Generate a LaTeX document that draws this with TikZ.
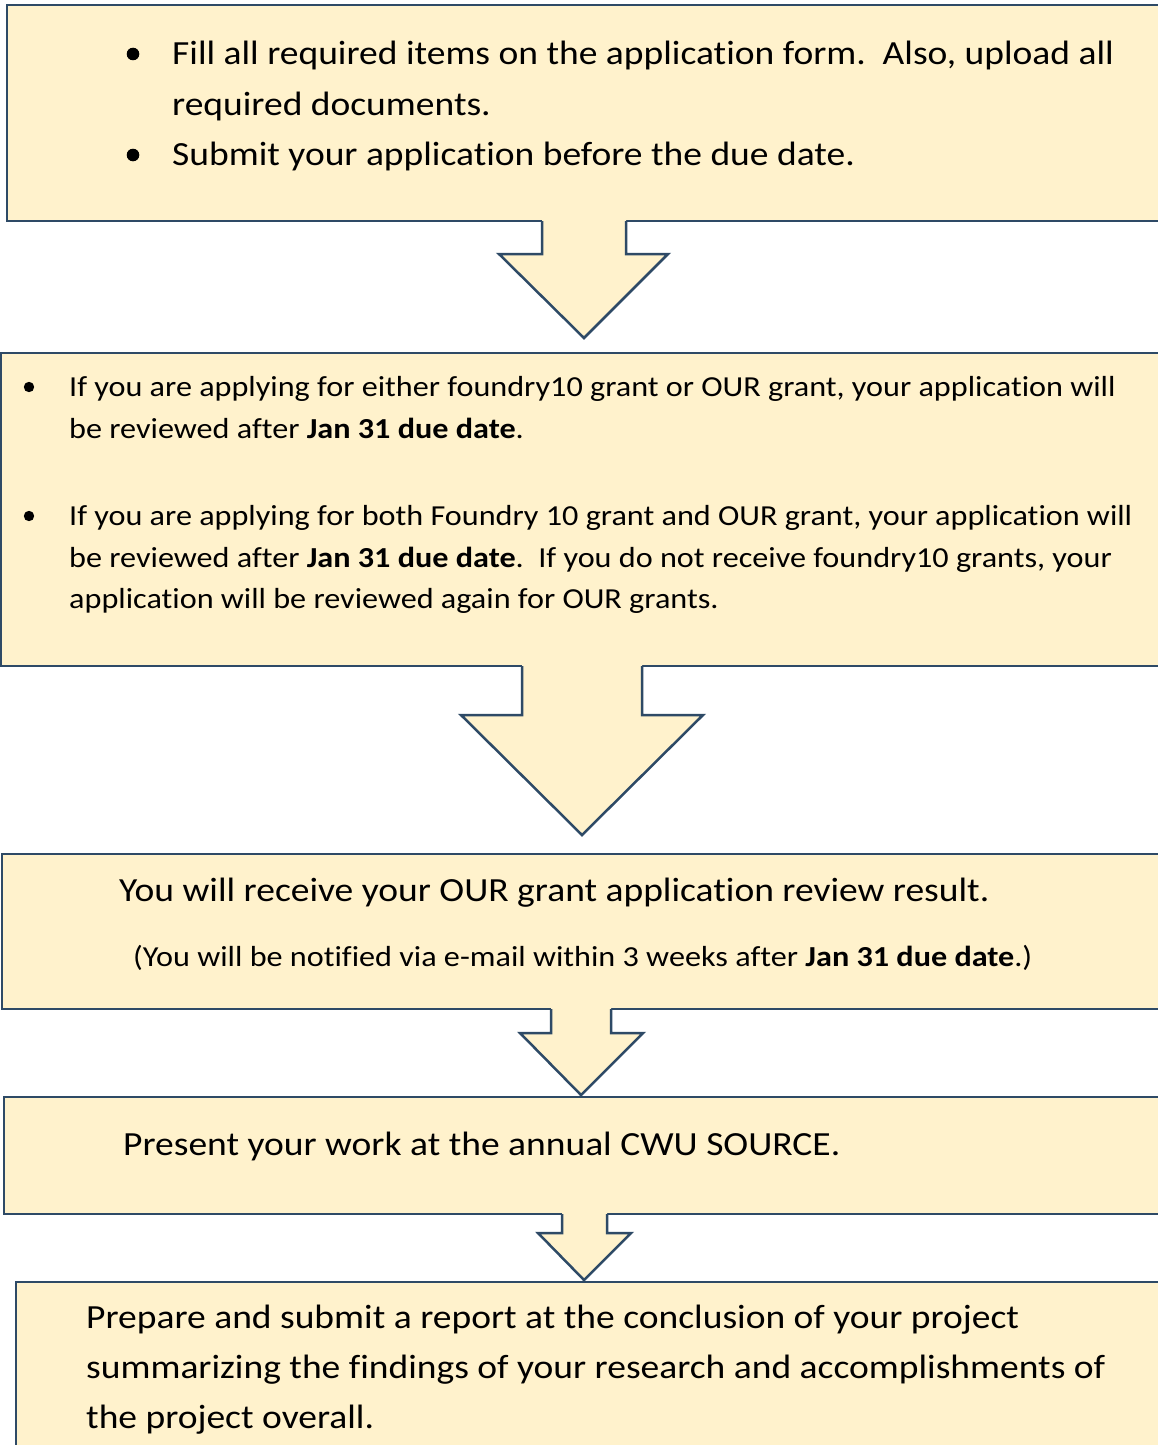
\documentclass[tikz,border=0pt]{standalone}
\usepackage{fontspec}
\setmainfont[Ligatures=CommonOff, FakeStretch=1.11]{Carlito}
\usetikzlibrary{calc}
\definecolor{boxfill}{HTML}{FFF2CC}
\definecolor{boxline}{HTML}{2E4A66}
\tikzset{
  flowbox/.style={draw=boxline, fill=boxfill, line width=2.5pt, rectangle, inner sep=0pt, outer sep=0pt, anchor=north west},
  bigtxt/.style={anchor=base west, inner sep=0pt, font=\fontsize{33.8}{40}\selectfont},
  smalltxt/.style={anchor=base west, inner sep=0pt, font=\fontsize{29}{35}\selectfont},
  arrowline/.style={draw=boxline, line width=2.5pt, line join=miter},
}
\newcommand\blockarr[8]{%
  \coordinate (tmpL) at (#2,0 |- #1.south);
  \coordinate (tmpR) at (#3,0 |- #1.south);
  \fill[boxfill] ([yshift=1.8pt]tmpL) -- (#2,#4) -- (#5,#4) -- (#7,#8) -- (#6,#4) -- (#3,#4) -- ([yshift=1.8pt]tmpR) -- cycle;
  \draw[arrowline] (tmpL) -- (#2,#4) -- (#5,#4) -- (#7,#8) -- (#6,#4) -- (#3,#4) -- (tmpR);
}
\begin{document}
\begin{tikzpicture}[x=1pt,y=-1pt]
\useasboundingbox (0,0) rectangle (1158,1445);
\clip (0,0) rectangle (1158,1445);
\fill[white] (0,0) rectangle (1158,1445);
% boxes
\node[flowbox, minimum width=1163pt, minimum height=216pt] (b1) at (7,5) {};
\node[flowbox, minimum width=1169pt, minimum height=313pt] (b2) at (1,353) {};
\node[flowbox, minimum width=1168pt, minimum height=155pt] (b3) at (2,854) {};
\node[flowbox, minimum width=1166pt, minimum height=117pt] (b4) at (4,1097) {};
\node[flowbox, minimum width=1154pt, minimum height=180pt] (b5) at (16,1282) {};
% arrows
\blockarr{b1}{542}{626}{254}{499}{668}{584}{338}
\blockarr{b2}{522}{642}{715}{461}{703}{582}{835}
\blockarr{b3}{551}{611}{1033}{520}{643}{581}{1095}
\blockarr{b4}{562}{607}{1233}{538}{631}{584}{1280}
% box 1 text
\fill (133,54) circle (6.3pt);
\fill (133,155) circle (6.3pt);
\node[bigtxt] (t1a) at (172,65) {Fill all required items on the application form.\ \ Also, upload all};
\node[bigtxt] (t1b) at (172,115) {required documents.};
\node[bigtxt] (t1c) at (172,165) {Submit your application before the due date.};
% box 2 text
\fill (29,387) circle (5.2pt);
\fill (29,516) circle (5.2pt);
\node[smalltxt] (t2a) at (69,396) {If you are applying for either foundry10 grant or OUR grant, your application will};
\node[smalltxt] (t2b) at (69,438) {be reviewed after \textbf{Jan 31 due date}.};
\node[smalltxt] (t2c) at (69,525) {If you are applying for both Foundry 10 grant and OUR grant, your application will};
\node[smalltxt] (t2d) at (69,567) {be reviewed after \textbf{Jan 31 due date}.\ \ If you do not receive foundry10 grants, your};
\node[smalltxt] (t2e) at (69,608) {application will be reviewed again for OUR grants.};
% box 3 text
\node[bigtxt] (t3a) at (119,901) {You will receive your OUR grant application review result.};
\node[smalltxt] (t3b) at (133,966) {(You will be notified via e-mail within 3 weeks after \textbf{Jan 31 due date}.)};
% box 4 text
\node[bigtxt] (t4a) at (123,1155) {Present your work at the annual CWU SOURCE.};
% box 5 text
\node[bigtxt] (t5a) at (86,1328) {Prepare and submit a report at the conclusion of your project};
\node[bigtxt] (t5b) at (86,1378) {summarizing the findings of your research and accomplishments of};
\node[bigtxt] (t5c) at (86,1428) {the project overall.};
\end{tikzpicture}
\end{document}
